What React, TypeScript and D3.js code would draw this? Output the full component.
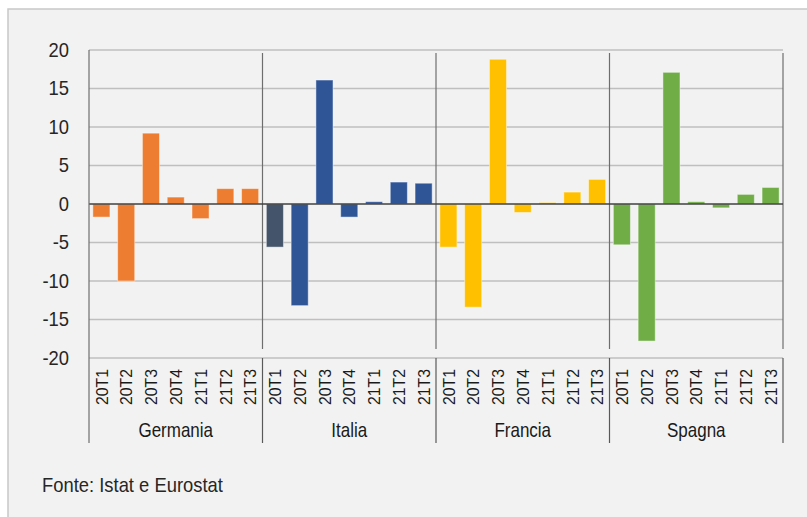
import React from 'react'
import * as d3 from 'd3'

// variazioni congiunturali per paese
const countries = ['Germania', 'Italia', 'Francia', 'Spagna']
const quarters = ['20T1', '20T2', '20T3', '20T4', '21T1', '21T2', '21T3']
const germania = [-1.7, -10.0, 9.2, 0.9, -1.9, 2.0, 2.0]
const italia = [-5.6, -13.2, 16.1, -1.7, 0.3, 2.85, 2.7]
const francia = [-5.6, -13.4, 18.8, -1.1, 0.2, 1.55, 3.2]
const spagna = [-5.3, -17.8, 17.1, 0.3, -0.5, 1.25, 2.15]
const yTicks = [20, 15, 10, 5, 0, -5, -10, -15, -20]
const source = 'Fonte: Istat e Eurostat'

const series = [germania, italia, francia, spagna]
const colors = ['#ed7d31', '#2f5597', '#ffc000', '#70ad47']
const font = '"Liberation Sans", Arial, sans-serif'

export default function App () {
  const W = 807
  const H = 517
  const left = 89
  const right = 783
  const top = 50
  const bottom = 358
  const axisBottom = 443

  const y = d3.scaleLinear().domain([-20, 20]).range([bottom, top])
  const xGroup = d3.scaleBand().domain(countries).range([left, right])
  const xBar = d3.scaleBand().domain(quarters).range([0, xGroup.bandwidth()])
    .paddingInner(0.31).paddingOuter(0.155)

  const bars: any[] = []
  countries.forEach((c, gi) => {
    series[gi].forEach((v, qi) => {
      const x0 = (xGroup(c) as number) + (xBar(quarters[qi]) as number)
      let fill = colors[gi]
      if (c === 'Italia' && qi === 0) fill = '#44546a'
      bars.push(
        <rect key={c + qi} x={x0} width={xBar.bandwidth()}
          y={y(Math.max(0, v))} height={Math.abs(y(v) - y(0))}
          fill={fill} stroke='rgba(255,255,255,0.45)' strokeWidth={1} />
      )
    })
  })

  const bounds = [...countries.map(c => xGroup(c) as number), right]

  return (
    <svg width={W} height={H} style={{position: 'absolute', left: 0, top: 0}}>
      <rect x={0} y={0} width={W} height={H} fill='#ffffff' />
      <rect x={8} y={9} width={W + 20} height={H + 20} fill='#f2f2f2' stroke='#c8c8c8' strokeWidth={1.5} />

      {yTicks.filter(t => t !== 0).map(t => (
        <line key={'g' + t} x1={left} x2={right} y1={y(t)} y2={y(t)} stroke='#bfbfbf' strokeWidth={1.3} />
      ))}

      {bounds.slice(1).map((b, i) => (
        <line key={'s' + i} x1={b} x2={b} y1={53} y2={349} stroke='#6e6e6e' strokeWidth={1.2} />
      ))}

      {bars}

      <line x1={left} x2={right} y1={y(0)} y2={y(0)} stroke='#404040' strokeWidth={1.3} />
      <line x1={left} x2={left} y1={top} y2={axisBottom} stroke='#6e6e6e' strokeWidth={1.2} />
      {bounds.slice(1).map((b, i) => (
        <line key={'c' + i} x1={b} x2={b} y1={bottom} y2={axisBottom} stroke='#595959' strokeWidth={1.2} />
      ))}

      {yTicks.map(t => (
        <text key={'t' + t} transform={`translate(69,${y(t)}) scale(0.92,1)`} textAnchor='end'
          dominantBaseline='central' fontFamily={font} fontSize={20} fill='#262626'>{t}</text>
      ))}

      {countries.map(c => quarters.map(q => {
        const cx = (xGroup(c) as number) + (xBar(q) as number) + xBar.bandwidth() / 2
        return (
          <text key={c + q} transform={`translate(${cx},405) rotate(-90) scale(0.93,1)`}
            dominantBaseline='central' fontFamily={font} fontSize={17} fill='#1a1a1a'>{q}</text>
        )
      }))}

      {countries.map(c => (
        <text key={'n' + c} transform={`translate(${(xGroup(c) as number) + xGroup.bandwidth() / 2},437) scale(0.85,1)`}
          textAnchor='middle' fontFamily={font} fontSize={20} fill='#1a1a1a'>{c}</text>
      ))}

      <text transform='translate(42,492) scale(0.92,1)' fontFamily={font} fontSize={20} fill='#262626'>{source}</text>
    </svg>
  )
}
